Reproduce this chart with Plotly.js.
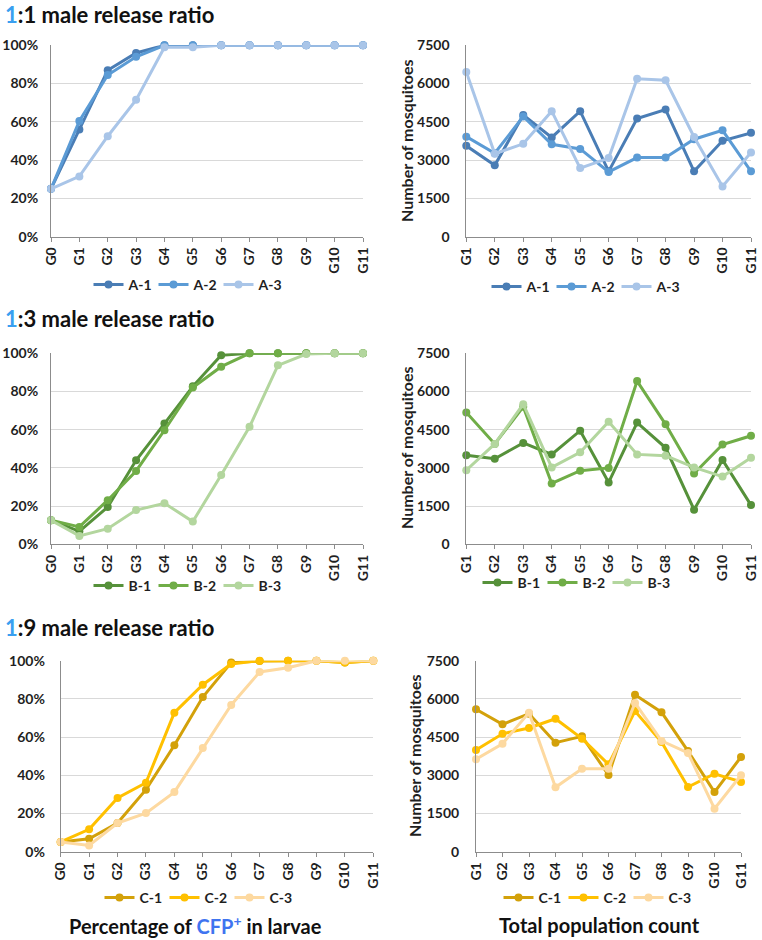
<!DOCTYPE html>
<html>
<head>
<meta charset="utf-8">
<script src="https://cdn.plot.ly/plotly-3.0.1.min.js"></script>
<style>html,body{margin:0;padding:0;background:#fff;}#chart{width:762px;height:940px;}</style>
</head>
<body>
<div id="chart"></div>
<script>
// ---- categories ----
const genAll = ['G0','G1','G2','G3','G4','G5','G6','G7','G8','G9','G10','G11'];
const genCount = ['G1','G2','G3','G4','G5','G6','G7','G8','G9','G10','G11'];
const namesA = ['A-1','A-2','A-3'];
const namesB = ['B-1','B-2','B-3'];
const namesC = ['C-1','C-2','C-3'];

// ---- 1:1 ratio ----
const pctA1 = [25, 56, 87, 96, 100, 100, 100, 100, 100, 100, 100, 100];
const pctA2 = [25, 60.5, 84.5, 94, 100, 100, 100, 100, 100, 100, 100, 100];
const pctA3 = [25, 31.5, 52.5, 71.5, 99, 99, 100, 100, 100, 100, 100, 100];
const cntA1 = [3560, 2800, 4770, 3890, 4920, 2560, 4630, 4980, 2560, 3760, 4070];
const cntA2 = [3920, 3270, 4710, 3620, 3440, 2540, 3100, 3100, 3820, 4170, 2560];
const cntA3 = [6450, 3250, 3640, 4920, 2690, 3080, 6190, 6130, 3910, 1970, 3300];

// ---- 1:3 ratio ----
const pctB1 = [12.6, 6.8, 19.5, 44, 63.2, 82.7, 99, 100, 100, 100, 100, 100];
const pctB2 = [12.6, 9.1, 23.1, 38.4, 59.7, 82.1, 93, 100, 100, 100, 100, 100];
const pctB3 = [12.6, 4.4, 8.2, 17.9, 21.5, 11.9, 36.3, 61.5, 93.7, 99.6, 100, 100];
const cntB1 = [3500, 3360, 3980, 3530, 4460, 2430, 4780, 3790, 1360, 3310, 1540];
const cntB2 = [5180, 3940, 5400, 2390, 2890, 3000, 6410, 4710, 2780, 3920, 4260];
const cntB3 = [2910, 3940, 5500, 3020, 3610, 4810, 3530, 3480, 3020, 2660, 3400];

// ---- 1:9 ratio ----
const pctC1 = [5.1, 6.8, 15, 32.5, 55.7, 81, 99, 99.8, 100, 100, 99, 100];
const pctC2 = [5.1, 11.7, 28.1, 36.1, 72.8, 87.4, 98.3, 100, 100, 100, 99, 100];
const pctC3 = [5.1, 3.3, 15, 20.2, 31.2, 54.3, 76.8, 94.1, 96.3, 100, 100, 100];
const cntC1 = [5590, 5000, 5420, 4280, 4530, 3010, 6160, 5480, 3950, 2340, 3720];
const cntC2 = [3990, 4630, 4860, 5220, 4440, 3430, 5520, 4310, 2540, 3060, 2740];
const cntC3 = [3630, 4240, 5460, 2530, 3260, 3260, 5840, 4350, 3880, 1690, 3000];

const colA = ['#4a7db5', '#5b9bd5', '#a9c5e8'];
const colB = ['#56913a', '#70ad47', '#b3d69e'];
const colC = ['#d3a10a', '#ffc000', '#fdd9a0'];

const FONT = 'Lato, "Open Sans", sans-serif';
const W = 762, H = 940;
const px = v => v / W;
const py = v => 1 - v / H;

function series(x, ys, names, cols, xa, ya, leg) {
  return ys.map((y, i) => ({
    type: 'scatter', mode: 'lines+markers', x: x, y: y, name: names[i],
    xaxis: xa, yaxis: ya, legend: leg, cliponaxis: false,
    line: {color: cols[i], width: 3},
    marker: {color: cols[i], size: 8}
  }));
}

const data = [].concat(
  series(genAll, [pctA1, pctA2, pctA3], namesA, colA, 'x', 'y', 'legend'),
  series(genCount, [cntA1, cntA2, cntA3], namesA, colA, 'x2', 'y2', 'legend2'),
  series(genAll, [pctB1, pctB2, pctB3], namesB, colB, 'x3', 'y3', 'legend3'),
  series(genCount, [cntB1, cntB2, cntB3], namesB, colB, 'x4', 'y4', 'legend4'),
  series(genAll, [pctC1, pctC2, pctC3], namesC, colC, 'x5', 'y5', 'legend5'),
  series(genCount, [cntC1, cntC2, cntC3], namesC, colC, 'x6', 'y6', 'legend6')
);

const tickFont = {family: FONT, size: 14, color: '#1f1f1f', weight: 700};

function xAxis(d, cats, anchor) {
  return {
    domain: d, anchor: anchor, type: 'category', categoryorder: 'array', categoryarray: cats,
    range: [0, cats.length - 1], tickangle: -90, ticks: 'outside', ticklen: 4,
    tickcolor: '#8c8c8c', showline: true, linecolor: '#8c8c8c', linewidth: 1,
    showgrid: false, zeroline: false, tickfont: tickFont, fixedrange: true
  };
}
function yPct(d, anchor, standoff) {
  return {
    domain: d, anchor: anchor, range: [0, 100], dtick: 20, tick0: 0, ticksuffix: '%',
    showgrid: true, gridcolor: '#d9d9d9', gridwidth: 1, showline: true, linecolor: '#8c8c8c',
    linewidth: 1, zeroline: false, ticks: '', ticklabelstandoff: standoff, tickfont: tickFont, fixedrange: true
  };
}
function yCnt(d, anchor) {
  return {
    domain: d, anchor: anchor, range: [0, 7500], dtick: 1500, tick0: 0,
    showgrid: true, gridcolor: '#d9d9d9', gridwidth: 1, showline: true, linecolor: '#8c8c8c',
    linewidth: 1, zeroline: false, ticks: '', ticklabelstandoff: 13, tickfont: tickFont, fixedrange: true
  };
}

const xL1 = [px(51), px(363)], xR1 = [px(466.3), px(751)];
const xL3 = [px(60.7), px(373.3)], xR3 = [px(476), px(741)];
const yRow1 = [py(236.7), py(45.3)];
const yRow2 = [py(544.3), py(353.3)];
const yRow3 = [py(851.7), py(660.7)];

function legend(cx, cy) {
  return {
    orientation: 'h', x: px(cx), xanchor: 'center', y: py(cy), yanchor: 'middle',
    font: {family: FONT, size: 14, color: '#1f1f1f', weight: 700},
    bgcolor: 'rgba(0,0,0,0)', itemwidth: 30, entrywidth: 20, entrywidthmode: 'pixels',
    traceorder: 'normal', itemclick: false, itemdoubleclick: false
  };
}

const titleFont = {family: FONT, size: 22, color: '#111', weight: 700};
const bottomFont = {family: FONT, size: 20, color: '#111', weight: 700};
const axTitleFont = {family: FONT, size: 16, color: '#1f1f1f', weight: 700};
const BLUE1 = '#3a9ff0';
function panelTitle(ratio, yc) {
  return {
    xref: 'paper', yref: 'paper', x: px(3), y: py(yc), xanchor: 'left', yanchor: 'middle',
    showarrow: false, font: titleFont,
    text: '<span style="color:' + BLUE1 + '">1</span>:' + ratio + ' male release ratio'
  };
}
function yTitle(xc, yc) {
  return {
    xref: 'paper', yref: 'paper', x: px(xc), y: py(yc), xanchor: 'center', yanchor: 'middle',
    showarrow: false, textangle: -90, font: axTitleFont, text: 'Number of mosquitoes'
  };
}

const layout = {
  width: W, height: H, margin: {l: 0, r: 0, t: 0, b: 0},
  paper_bgcolor: '#fff', plot_bgcolor: 'rgba(0,0,0,0)', showlegend: true,
  font: {family: FONT},
  xaxis: xAxis(xL1, genAll, 'y'), yaxis: yPct(yRow1, 'x', 9),
  xaxis2: xAxis(xR1, genCount, 'y2'), yaxis2: yCnt(yRow1, 'x2'),
  xaxis3: xAxis(xL1, genAll, 'y3'), yaxis3: yPct(yRow2, 'x3', 9),
  xaxis4: xAxis(xR1, genCount, 'y4'), yaxis4: yCnt(yRow2, 'x4'),
  xaxis5: xAxis(xL3, genAll, 'y5'), yaxis5: yPct(yRow3, 'x5', 12),
  xaxis6: xAxis(xR3, genCount, 'y6'), yaxis6: yCnt(yRow3, 'x6'),
  legend: legend(186, 285), legend2: legend(584, 287),
  legend3: legend(186, 586), legend4: legend(575, 583),
  legend5: legend(197, 898), legend6: legend(596, 898),
  annotations: [
    panelTitle(1, 15), panelTitle(3, 318), panelTitle(9, 627),
    yTitle(406, 141), yTitle(406, 448), yTitle(414, 756),
    {xref: 'paper', yref: 'paper', x: px(195), y: py(925), xanchor: 'center', yanchor: 'middle',
     showarrow: false, font: bottomFont,
     text: 'Percentage of <span style="color:#3f74f0">CFP<sup>+</sup></span> in larvae'},
    {xref: 'paper', yref: 'paper', x: px(599), y: py(925), xanchor: 'center', yanchor: 'middle',
     showarrow: false, font: bottomFont, text: 'Total population count'}
  ]
};

Plotly.newPlot('chart', data, layout, {displayModeBar: false, staticPlot: true});
</script>
</body>
</html>
